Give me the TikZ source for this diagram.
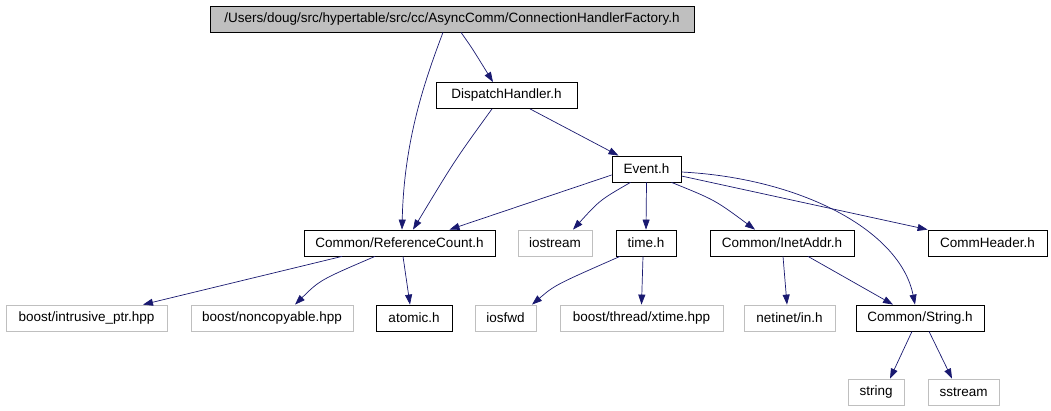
\documentclass[tikz,border=0pt]{standalone}
\usepackage{fontspec}
\setmainfont{Liberation Sans}
\usetikzlibrary{arrows.meta}
\definecolor{edgeblue}{HTML}{191970}
\definecolor{boxgray}{HTML}{BFBFBF}

\begin{document}
\begin{tikzpicture}[x=1pt,y=-1pt,
    file/.style={draw=black,line width=0.8pt,minimum height=26pt,inner sep=0pt,
      font=\fontsize{13.5}{15}\selectfont},
    sysfile/.style={file,draw=boxgray},
    dep/.style={edgeblue,line width=0.7pt,-{Triangle[length=10pt,width=7pt]}}]
    \useasboundingbox (0,0) rectangle (1051,411);
    \node[file,fill=boxgray,minimum width=484pt] (factory) at (452,19)
      {/Users/doug/src/hypertable/src/cc/AsyncComm/ConnectionHandlerFactory.h};
    \node[file,minimum width=141pt] (dispatch) at (506.5,95.5) {DispatchHandler.h};
    \node[file,minimum width=69pt] (event) at (646.5,169) {Event.h};
    \node[file,minimum width=191pt] (refcount) at (399.5,243) {Common/ReferenceCount.h};
    \node[sysfile,minimum width=74pt] (iostream) at (555,243) {iostream};
    \node[file,minimum width=60pt] (timeh) at (646,243) {time.h};
    \node[file,minimum width=144pt] (inetaddr) at (782,243) {Common/InetAddr.h};
    \node[file,minimum width=119pt] (commheader) at (987.5,243) {CommHeader.h};
    \node[sysfile,minimum width=161pt] (intrusive) at (86.5,318) {boost/intrusive\_ptr.hpp};
    \node[sysfile,minimum width=162pt] (noncopyable) at (272,318) {boost/noncopyable.hpp};
    \node[file,minimum width=76pt] (atomic) at (414,318) {atomic.h};
    \node[sysfile,minimum width=61pt] (iosfwd) at (505.5,318) {iosfwd};
    \node[sysfile,minimum width=163pt] (xtime) at (641.5,318) {boost/thread/xtime.hpp};
    \node[sysfile,minimum width=91pt] (netinet) at (789.5,318) {netinet/in.h};
    \node[file,minimum width=128pt] (stringh) at (920,318) {Common/String.h};
    \node[sysfile,minimum width=56pt] (stringbox) at (876,392) {string};
    \node[sysfile,minimum width=71pt] (sstream) at (963.5,392) {sstream};

    \draw[dep] ([xshift=-9pt]factory.south) .. controls (425,80) and (404,140) .. ([xshift=2.5pt]refcount.north);
    \draw[dep] ([xshift=9pt]factory.south) .. controls (472,48) .. ([xshift=-13.5pt]dispatch.north);
    \draw[dep] ([xshift=-14.5pt]dispatch.south) .. controls (455,160) .. ([xshift=13.5pt]refcount.north);
    \draw[dep] ([xshift=23.5pt]dispatch.south) -- ([xshift=-28pt]event.north);
    \draw[dep] ([yshift=-6pt]event.west) -- ([xshift=50pt]refcount.north);
    \draw[dep] ([xshift=-16pt]event.south) .. controls (600,200) .. ([xshift=18pt]iostream.north);
    \draw[dep] (event.south) -- (timeh.north);
    \draw[dep] ([xshift=25pt]event.south) .. controls (715,200) .. ([xshift=-27pt]inetaddr.north);
    \draw[dep] ([yshift=-7pt]event.east) -- (commheader.north west);
    \draw[dep] ([yshift=-3pt]event.east) .. controls (800,178) and (900,230) .. ([xshift=-5pt]stringh.north);
    \draw[dep] ([xshift=-57.5pt]refcount.south) -- ([xshift=56.5pt]intrusive.north);
    \draw[dep] ([xshift=-24.5pt]refcount.south) .. controls (320,280) .. ([xshift=23pt]noncopyable.north);
    \draw[dep] ([xshift=3.5pt]refcount.south) -- ([xshift=-4pt]atomic.north);
    \draw[dep] ([xshift=-26pt]timeh.south) .. controls (555,285) .. ([xshift=26.5pt]iosfwd.north);
    \draw[dep] ([xshift=-3pt]timeh.south) -- (xtime.north);
    \draw[dep] ([xshift=1pt]inetaddr.south) -- ([xshift=-2.5pt]netinet.north);
    \draw[dep] ([xshift=26pt]inetaddr.south) -- ([xshift=-27pt]stringh.north);
    \draw[dep] ([xshift=-8pt]stringh.south) -- ([xshift=14pt]stringbox.north);
    \draw[dep] ([xshift=9pt]stringh.south) -- ([xshift=-11.5pt]sstream.north);
\end{tikzpicture}
\end{document}
